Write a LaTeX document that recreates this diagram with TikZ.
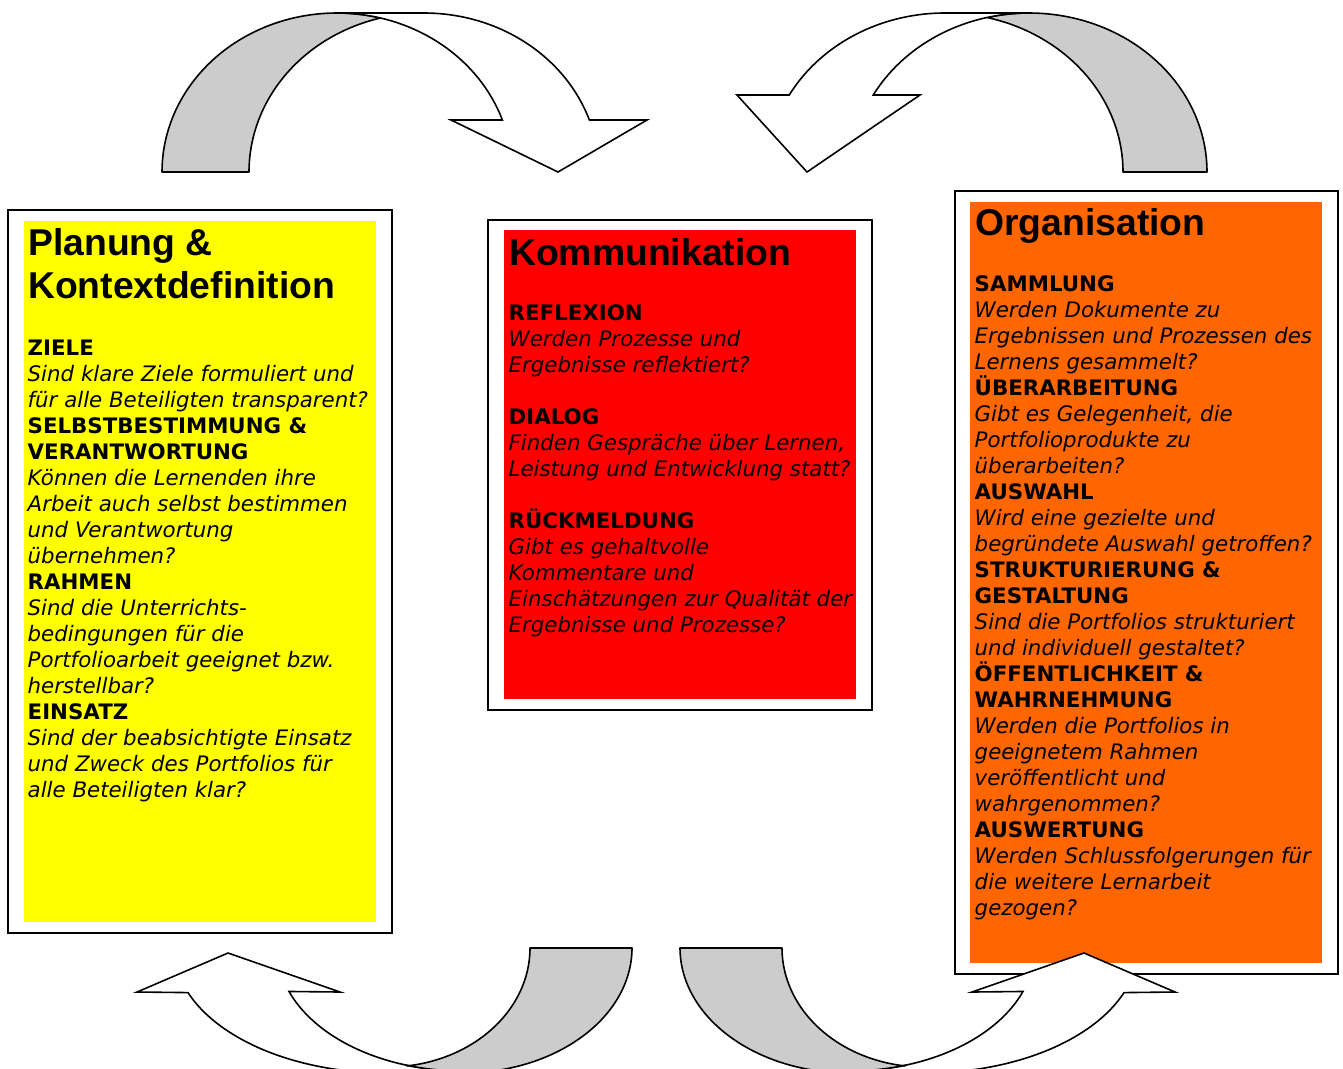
\documentclass[tikz,border=0pt]{standalone}
\usepackage{fontspec}
\newfontfamily\bodyfam{DejaVu Sans}[BoldFont={DejaVu Sans Bold},ItalicFont={DejaVu Sans Oblique},BoldItalicFont={DejaVu Sans Bold Oblique}]
\newfontfamily\titlefam{Liberation Sans}
\definecolor{boxyellow}{HTML}{FFFF00}
\definecolor{boxred}{HTML}{FF0000}
\definecolor{boxorange}{HTML}{FF6600}
\definecolor{bandgray}{HTML}{CCCCCC}
\tikzset{
  outerbox/.style={draw=black, line width=2pt, fill=white},
  band/.style={fill=bandgray, draw=black, line width=1.6pt, line join=round},
  front/.style={fill=white, draw=black, line width=1.6pt, line join=miter},
  headline/.style={font=\bodyfam\bfseries\fontsize{21.33pt}{26pt}\selectfont, anchor=base west, inner sep=0pt},
  question/.style={font=\bodyfam\itshape\fontsize{21.33pt}{26pt}\selectfont, anchor=base west, inner sep=0pt},
  titletxt/.style={font=\titlefam\bfseries\fontsize{37.33pt}{43pt}\selectfont, anchor=base west, inner sep=0pt}
}
\begin{document}
\begin{tikzpicture}[x=1pt,y=-1pt]
\useasboundingbox (0,0) rectangle (1343,1068);
\clip (0,0) rectangle (1343,1068);
\fill[white] (0,0) rectangle (1343,1068);

% ---------- boxes ----------
\draw[outerbox] (8,210) rectangle (392,933);
\fill[boxyellow] (24,221) rectangle (376,922);
\draw[outerbox] (488,220) rectangle (872,710);
\fill[boxred] (504,230) rectangle (856,699);
\draw[outerbox] (955,191) rectangle (1338,974);
\fill[boxorange] (970,202) rectangle (1322,963);

% ---------- left box text ----------
\node[titletxt] (lt1) at (28,255) {Planung \&};
\node[titletxt] (lt2) at (28,298) {Kontextdefinition};
\node[headline] (l1) at (27.5,355) {ZIELE};
\node[question] (l2) at (27.5,381) {Sind klare Ziele formuliert und};
\node[question] (l3) at (27.5,407) {für alle Beteiligten transparent?};
\node[headline] (l4) at (27.5,433) {SELBSTBESTIMMUNG \&};
\node[headline] (l5) at (27.5,459) {VERANTWORTUNG};
\node[question] (l6) at (27.5,485) {Können die Lernenden ihre};
\node[question] (l7) at (27.5,511) {Arbeit auch selbst bestimmen};
\node[question] (l8) at (27.5,537) {und Verantwortung};
\node[question] (l9) at (27.5,563) {übernehmen?};
\node[headline] (l10) at (27.5,589) {RAHMEN};
\node[question] (l11) at (27.5,615) {Sind die Unterrichts-};
\node[question] (l12) at (27.5,641) {bedingungen für die};
\node[question] (l13) at (27.5,667) {Portfolioarbeit geeignet bzw.};
\node[question] (l14) at (27.5,693) {herstellbar?};
\node[headline] (l15) at (27.5,719) {EINSATZ};
\node[question] (l16) at (27.5,745) {Sind der beabsichtigte Einsatz};
\node[question] (l17) at (27.5,771) {und Zweck des Portfolios für};
\node[question] (l18) at (27.5,797) {alle Beteiligten klar?};

% ---------- middle box text ----------
\node[titletxt] (mt1) at (509,265) {Kommunikation};
\node[headline] (m1) at (508.5,320) {REFLEXION};
\node[question] (m2) at (508.5,346) {Werden Prozesse und};
\node[question] (m3) at (508.5,372) {Ergebnisse reflektiert?};
\node[headline] (m4) at (508.5,424) {DIALOG};
\node[question] (m5) at (508.5,450) {Finden Gespräche über Lernen,};
\node[question] (m6) at (508.5,476) {Leistung und Entwicklung statt?};
\node[headline] (m7) at (508.5,528) {RÜCKMELDUNG};
\node[question] (m8) at (508.5,554) {Gibt es gehaltvolle};
\node[question] (m9) at (508.5,580) {Kommentare und};
\node[question] (m10) at (508.5,606) {Einschätzungen zur Qualität der};
\node[question] (m11) at (508.5,632) {Ergebnisse und Prozesse?};

% ---------- right box text ----------
\node[titletxt] (rt1) at (975,235) {Organisation};
\node[headline] (r1) at (974.5,291) {SAMMLUNG};
\node[question] (r2) at (974.5,317) {Werden Dokumente zu};
\node[question] (r3) at (974.5,343) {Ergebnissen und Prozessen des};
\node[question] (r4) at (974.5,369) {Lernens gesammelt?};
\node[headline] (r5) at (974.5,395) {ÜBERARBEITUNG};
\node[question] (r6) at (974.5,421) {Gibt es Gelegenheit, die};
\node[question] (r7) at (974.5,447) {Portfolioprodukte zu};
\node[question] (r8) at (974.5,473) {überarbeiten?};
\node[headline] (r9) at (974.5,499) {AUSWAHL};
\node[question] (r10) at (974.5,525) {Wird eine gezielte und};
\node[question] (r11) at (974.5,551) {begründete Auswahl getroffen?};
\node[headline] (r12) at (974.5,577) {STRUKTURIERUNG \&};
\node[headline] (r13) at (974.5,603) {GESTALTUNG};
\node[question] (r14) at (974.5,629) {Sind die Portfolios strukturiert};
\node[question] (r15) at (974.5,655) {und individuell gestaltet?};
\node[headline] (r16) at (974.5,681) {ÖFFENTLICHKEIT \&};
\node[headline] (r17) at (974.5,707) {WAHRNEHMUNG};
\node[question] (r18) at (974.5,733) {Werden die Portfolios in};
\node[question] (r19) at (974.5,759) {geeignetem Rahmen};
\node[question] (r20) at (974.5,785) {veröffentlicht und};
\node[question] (r21) at (974.5,811) {wahrgenommen?};
\node[headline] (r22) at (974.5,837) {AUSWERTUNG};
\node[question] (r23) at (974.5,863) {Werden Schlussfolgerungen für};
\node[question] (r24) at (974.5,889) {die weitere Lernarbeit};
\node[question] (r25) at (974.5,915) {gezogen?};

% ---------- top-left curved arrow ----------
\path[band] plot[domain=180:75.6,samples=60] ({337+175*cos(\x)},{172-159*sin(\x)})
  -- plot[domain=104.4:180,samples=60] ({424+175*cos(\x)},{172-159*sin(\x)}) -- cycle;
\path[front] (337,13)
  -- plot[domain=90:19.1,samples=60] ({424+175*cos(\x)},{172-159*sin(\x)})
  -- (647,120) -- (558,172) -- (451,120)
  -- plot[domain=19.1:90,samples=60] ({337+175*cos(\x)},{172-159*sin(\x)}) -- cycle;

% ---------- top-right curved arrow ----------
\path[band] plot[domain=0:103.6,samples=60] ({1029+178*cos(\x)},{172-159*sin(\x)})
  -- plot[domain=76.4:0,samples=60] ({945+178*cos(\x)},{172-159*sin(\x)}) -- cycle;
\path[front] (1029,13)
  -- plot[domain=90:151.03,samples=60] ({945+178*cos(\x)},{172-159*sin(\x)})
  -- (737,95) -- (807,172) -- (920,95)
  -- plot[domain=151.03:90,samples=60] ({1029+178*cos(\x)},{172-159*sin(\x)}) -- cycle;

% ---------- bottom-left curved arrow ----------
\path[front] (137,992) -- (228,953) -- (340,992)
  -- plot[domain=159.3:90,samples=60] ({463+186*cos(\x)},{948+123*sin(\x)})
  -- plot[domain=90:159.1,samples=60] ({387+213*cos(\x)},{948+125*sin(\x)}) -- cycle;
\path[band] (530,948) -- (632,948)
  -- plot[domain=0:90,samples=60] ({463+169*cos(\x)},{948+125*sin(\x)})
  -- plot[domain=90:107.5,samples=20] ({463+186*cos(\x)},{948+123*sin(\x)})
  -- plot[domain=82.3:0,samples=60] ({388+142*cos(\x)},{948+119*sin(\x)}) -- cycle;

% ---------- bottom-right curved arrow (mirror) ----------
\begin{scope}[xshift=1312pt, xscale=-1]
\path[front] (137,992) -- (228,953) -- (340,992)
  -- plot[domain=159.3:90,samples=60] ({463+186*cos(\x)},{948+123*sin(\x)})
  -- plot[domain=90:159.1,samples=60] ({387+213*cos(\x)},{948+125*sin(\x)}) -- cycle;
\path[band] (530,948) -- (632,948)
  -- plot[domain=0:90,samples=60] ({463+169*cos(\x)},{948+125*sin(\x)})
  -- plot[domain=90:107.5,samples=20] ({463+186*cos(\x)},{948+123*sin(\x)})
  -- plot[domain=82.3:0,samples=60] ({388+142*cos(\x)},{948+119*sin(\x)}) -- cycle;
\end{scope}
\end{tikzpicture}
\end{document}
